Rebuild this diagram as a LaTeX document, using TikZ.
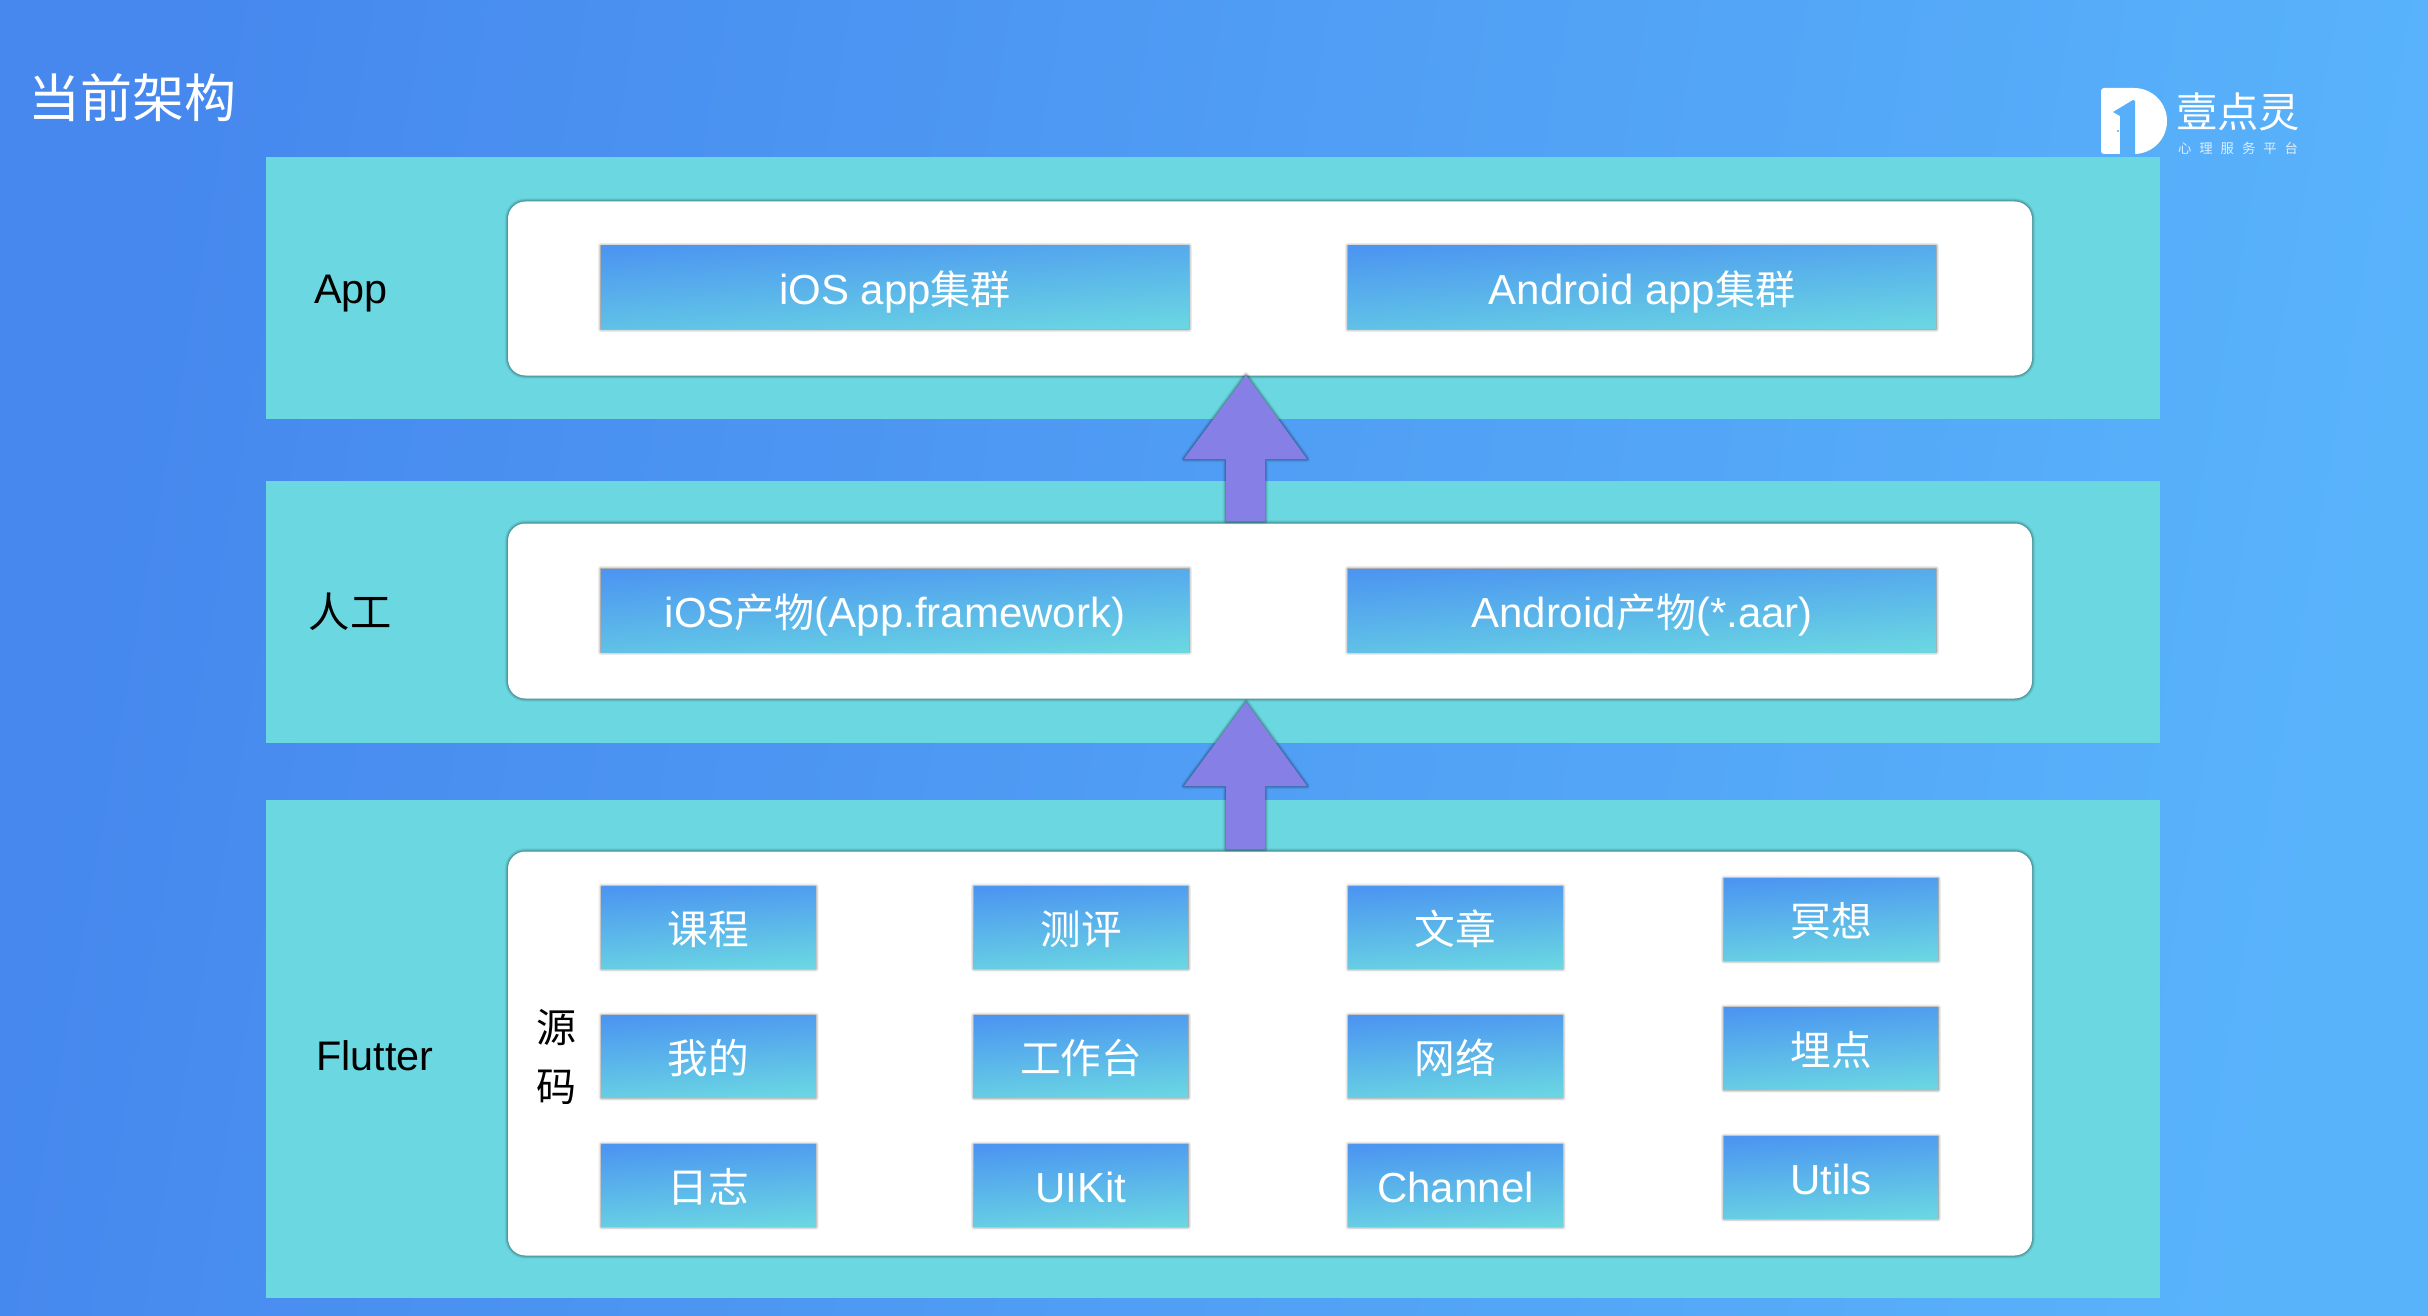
\documentclass[tikz,border=0pt]{standalone}
\usepackage{fontspec}
\setmainfont{Liberation Sans}
\newfontfamily\cjk{Noto Sans CJK SC}
\definecolor{bgleft}{RGB}{70,136,238}
\definecolor{bgright}{RGB}{89,179,251}
\definecolor{bandteal}{RGB}{107,215,224}
\definecolor{boxtop}{RGB}{76,150,241}
\definecolor{boxbottom}{RGB}{106,214,226}
\definecolor{arrowviolet}{RGB}{134,128,230}
\definecolor{logoblue}{RGB}{87,174,249}
\tikzset{every picture/.style={line width=0.75pt},
  softshadow/.style={
    preaction={draw=black,line join=round,line width=5pt,draw opacity=0.03},
    preaction={draw=black,line join=round,line width=4pt,draw opacity=0.05},
    preaction={draw=black,line join=round,line width=3pt,draw opacity=0.07},
    preaction={draw=black,line join=round,line width=2pt,draw opacity=0.09},
    preaction={draw=black,line join=round,line width=1pt,draw opacity=0.12}},
  band/.style={fill=bandteal,inner sep=0pt,minimum width=1420.5pt},
  card/.style={softshadow,fill=white,rounded corners=13pt,inner sep=0pt,minimum width=1143pt},
  gradbox/.style={softshadow,top color=boxtop,bottom color=boxbottom,shading angle=4,
    text=white,inner sep=0pt,text height=31.4pt,text depth=6pt,font=\fontsize{31.5}{31.5}\selectfont},
  widebox/.style={gradbox,minimum width=441pt,minimum height=62.25pt},
  smallbox/.style={gradbox,minimum width=160.5pt,minimum height=61.5pt},
  rowlabel/.style={inner sep=0pt,font=\fontsize{31}{31}\selectfont},
  blockarrow/.style={softshadow,fill=arrowviolet}
}

\begin{document}
\begin{tikzpicture}[x=0.75pt,y=0.75pt,yscale=-1,xscale=1]
\useasboundingbox (0,0) rectangle (2428,1316);

%Background
\fill [left color=bgleft,right color=bgright,shading angle=80] (0,0) rectangle (2428,1316);

%Bands
\node (bandApp) [band,minimum height=196.5pt] at (1213,288) {};
\node (bandMan) [band,minimum height=196.5pt] at (1213,612) {};
\node (bandSrc) [band,minimum height=373.5pt] at (1213,1049) {};

%Cards
\node (cardApp) [card,minimum height=130.5pt] at (1270,288.5) {};
\node (cardMan) [card,minimum height=131.25pt] at (1270,611) {};
\node (cardSrc) [card,minimum height=303pt] at (1270,1053.5) {};

%Arrows
\coordinate (tipUpper) at (1246,375);
\coordinate (tipLower) at (1246,702);
\fill [blockarrow] (tipUpper) -- ++(61,84) -- ++(-42,0) -- ++(0,62) -- ++(-39,0) -- ++(0,-62) -- ++(-42,0) -- cycle;
\fill [blockarrow] (tipLower) -- ++(61,84) -- ++(-42,0) -- ++(0,63) -- ++(-39,0) -- ++(0,-63) -- ++(-42,0) -- cycle;

% Text Node
\node (title) [text=white,inner sep=0pt,font=\cjk\fontsize{39}{39}\selectfont] at (132,98) {当前架构};
\node (labApp) [rowlabel] at (351,294) {App};
\node (labMan) [rowlabel,font=\cjk\fontsize{31}{31}\selectfont] at (350,612) {人工};
\node (labFlutter) [rowlabel] at (375,1056) {Flutter};
\node (labSrcA) [rowlabel,font=\cjk\fontsize{30}{30}\selectfont] at (556,1028) {源};
\node (labSrcB) [rowlabel,font=\cjk\fontsize{30}{30}\selectfont] at (556,1087) {码};

%App row
\node (iosApp) [widebox] at (895,287.5) {iOS app{\cjk\fontsize{30}{30}\selectfont 集群}};
\node (androidApp) [widebox] at (1642,287.5) {Android app{\cjk\fontsize{30}{30}\selectfont 集群}};
%Artifact row
\node (iosLib) [widebox] at (895,610.5) {iOS{\cjk\fontsize{30}{30}\selectfont 产物}(App.framework)};
\node (androidLib) [widebox] at (1642,610.5) {Android{\cjk\fontsize{30}{30}\selectfont 产物}(*.aar)};

%Source grid
\node (modCourse) [smallbox,font=\cjk\fontsize{30.5}{30.5}\selectfont] at (708.5,927.5) {课程};
\node (modTest) [smallbox,font=\cjk\fontsize{30.5}{30.5}\selectfont] at (1081,927.5) {测评};
\node (modArticle) [smallbox,font=\cjk\fontsize{30.5}{30.5}\selectfont] at (1455.5,927.5) {文章};
\node (modMuse) [smallbox,font=\cjk\fontsize{30.5}{30.5}\selectfont] at (1831,919.5) {冥想};
\node (modMine) [smallbox,font=\cjk\fontsize{30.5}{30.5}\selectfont] at (708.5,1056.5) {我的};
\node (modDesk) [smallbox,font=\cjk\fontsize{30.5}{30.5}\selectfont] at (1081,1056.5) {工作台};
\node (modNet) [smallbox,font=\cjk\fontsize{30.5}{30.5}\selectfont] at (1455.5,1056.5) {网络};
\node (modTrack) [smallbox,font=\cjk\fontsize{30.5}{30.5}\selectfont] at (1831,1048.5) {埋点};
\node (modLog) [smallbox,font=\cjk\fontsize{30.5}{30.5}\selectfont] at (708.5,1185.5) {日志};
\node (modKit) [smallbox] at (1081,1185.5) {UIKit};
\node (modChannel) [smallbox] at (1455.5,1185.5) {Channel};
\node (modUtils) [smallbox] at (1831,1177.5) {Utils};

%Logo
\fill [white] (2104,88) -- (2134,88) arc (-90:90:33) -- (2104,154) to[out=180,in=90] (2101,151) -- (2101,91) to[out=-90,in=180] cycle;
\fill [logoblue] (2113,112) -- (2133,100) -- (2135,101) -- (2135,154) -- (2120,154) -- (2120,116) -- cycle;
\fill [logoblue] (2118,131) circle (1.2);
\node (logoName) [text=white,inner sep=0pt,font=\cjk\fontsize{31}{31}\selectfont] at (2238,112) {壹点灵};
\node (logoSub) [text=white,text opacity=0.8,inner sep=0pt,text width=90pt,font=\cjk\fontsize{10}{10}\selectfont] at (2238,148) {心\hfill 理\hfill 服\hfill 务\hfill 平\hfill 台};
\end{tikzpicture}
\end{document}
